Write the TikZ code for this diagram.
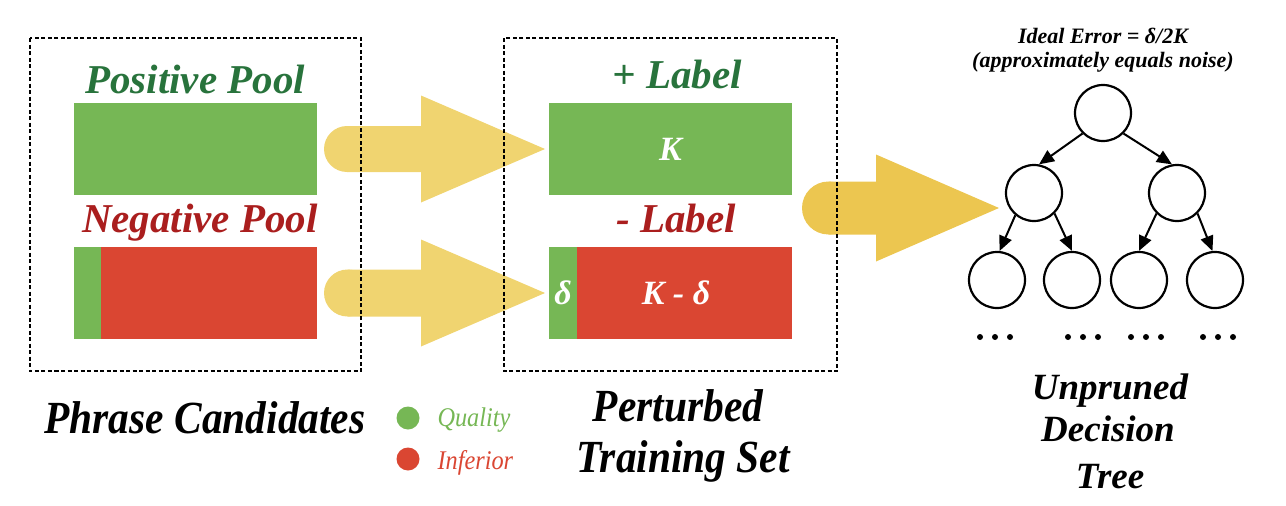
\documentclass[tikz,border=0pt]{standalone}
\usepackage{fontspec}
\setmainfont{Liberation Serif}
\newfontfamily\narrowfont[FakeStretch=0.9]{Liberation Serif}
\usetikzlibrary{arrows.meta}

\definecolor{poolgreen}{RGB}{118,183,85}
\definecolor{poolred}{RGB}{218,70,50}
\definecolor{darkgreen}{RGB}{40,115,60}
\definecolor{darkred}{RGB}{170,30,30}
\definecolor{lightyellow}{RGB}{240,212,112}
\definecolor{deepyellow}{RGB}{236,198,80}

% colour, tail x, head x, tip x, mid y, half shaft, half head
\newcommand{\fatarrow}[7]{%
  \fill[#1] ({#2+#6},{#5}) circle[radius=#6];
  \fill[#1] ({#2+#6},{#5-#6}) -- ({#3},{#5-#6}) -- ({#3},{#5-#7}) -- ({#4},{#5})
    -- ({#3},{#5+#7}) -- ({#3},{#5+#6}) -- ({#2+#6},{#5+#6}) -- cycle;
}

\begin{document}
\begin{tikzpicture}[x=1pt,y=-1pt,
  box/.style={draw, dash pattern=on 4pt off 2.5pt, line width=2pt},
  bar/.style={inner sep=0pt, minimum width=243, minimum height=92},
  strip/.style={inner sep=0pt, minimum width=27, minimum height=92, fill=poolgreen, anchor=west},
  head/.style={anchor=base, font=\fontsize{41}{41}\selectfont\bfseries\itshape},
  inside/.style={text=white, font=\fontsize{34}{34}\selectfont\bfseries\itshape},
  caption/.style={anchor=base, font=\narrowfont\fontsize{46}{46}\selectfont\bfseries\itshape},
  key/.style={anchor=base west, font=\narrowfont\fontsize{27}{27}\selectfont\itshape},
  note/.style={anchor=base, font=\fontsize{22}{22}\selectfont\bfseries\itshape},
  leaf/.style={draw, circle, line width=2.2pt, minimum size=56, inner sep=0pt},
  edge/.style={line width=2pt, -{Triangle[length=15pt,width=13pt]}}]

\useasboundingbox (0,0) rectangle (1286,506);

\fatarrow{lightyellow}{324}{421}{545}{149}{23}{53.5}
\fatarrow{lightyellow}{324}{421}{545}{293}{23.5}{53.5}
\fatarrow{deepyellow}{802}{876}{999}{208}{26.5}{53.5}

% phrase candidates
\node[head, text=darkgreen] (pp) at (195,93) {Positive Pool};
\node[bar, fill=poolgreen] (pbar) at (195,149) {};
\node[head, text=darkred] (np) at (200,232) {Negative Pool};
\node[bar, fill=poolred] (nbar) at (195,293) {};
\node[strip] (ns) at (nbar.west) {};
\draw[box] (30,38) rectangle (361,371);

% perturbed training set
\node[head, text=darkgreen] (pl) at (677,88) {+ Label};
\node[bar, fill=poolgreen, inside] (kbar) at (670.5,149) {K};
\node[head, text=darkred] (nl) at (676,232) {- Label};
\node[bar, fill=poolred] (dbar) at (670.5,293) {};
\node[strip, minimum width=28] (ds) at (dbar.west) {};
\node[inside] (d) at (ds.center) {δ};
\node[inside] (kd) at (676,293) {K - δ};
\draw[box] (504,38) rectangle (837,371);

% legend and captions
\node[caption] (pc) at (205,433) {Phrase Candidates};
\draw[fill=poolgreen, draw=none] (408,418) circle[radius=11.5] coordinate (q);
\draw[fill=poolred, draw=none] (408,459) circle[radius=11.5] coordinate (i);
\node[key, text=poolgreen] (ql) at (434,426) {Quality};
\node[key, text=poolred] (il) at (434,469) {Inferior};
\node[caption] (ts1) at (678,421) {Perturbed};
\node[caption] (ts2) at (683,472) {Training Set};

% decision tree
\node[note] (err) at (1103,43) {Ideal Error = δ/2K};
\node[note] (noise) at (1103,67) {(approximately equals noise)};
\node[leaf] (t) at (1103,113) {};
\node[leaf] (t1) at (1034,193) {};
\node[leaf] (t2) at (1177,193) {};
\node[leaf] (t11) at (997,280) {};
\node[leaf] (t12) at (1072,280) {};
\node[leaf] (t21) at (1139,280) {};
\node[leaf] (t22) at (1215,280) {};
\draw[edge] (t.225) -- (t1.80);
\draw[edge] (t.-45) -- (t2.100);
\draw[edge] (t1.230) -- (t11.85);
\draw[edge] (t1.-45) -- (t12.90);
\draw[edge] (t2.225) -- (t21.90);
\draw[edge] (t2.-45) -- (t22.95);
\foreach \x in {980,1068,1131,1203}
  \foreach \k in {0,15,30}
    \fill ({\x+\k},337) circle[radius=3];
\node[caption, font=\fontsize{37}{37}\selectfont\bfseries\itshape] (up) at (1110,399) {Unpruned};
\node[caption, font=\fontsize{37}{37}\selectfont\bfseries\itshape] (dc) at (1108,441) {Decision};
\node[caption, font=\fontsize{37}{37}\selectfont\bfseries\itshape] (tr) at (1110,488) {Tree};

\end{tikzpicture}
\end{document}
